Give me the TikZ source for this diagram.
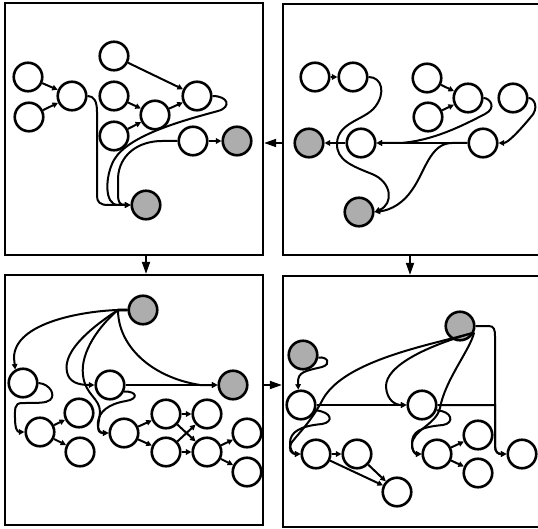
\documentclass[tikz,border=0pt]{standalone}
\usetikzlibrary{arrows.meta}
\begin{document}
\begin{tikzpicture}[x=1pt,y=-1pt,
  nd/.style={circle,draw,fill=white,line width=2.6pt,minimum size=28.5pt,inner sep=0pt},
  sh/.style={nd,fill=black!32},
  e/.style={line width=2pt,-{Triangle[length=5.5pt,width=5.5pt]}},
  pnl/.style={draw,line width=2.3pt,rectangle,inner sep=0pt},
  big/.style={line width=1.8pt,-{Triangle[length=12pt,width=8pt]}}]
\useasboundingbox (0,0) rectangle (538,529);
\clip (0,0) rectangle (538,529);
% panels
\node[pnl,minimum width=258pt,minimum height=252pt] (tl) at (134,129) {};
\node[pnl,minimum width=262pt,minimum height=251pt] (tr) at (414,129.5) {};
\node[pnl,minimum width=258pt,minimum height=250pt] (bl) at (134,400) {};
\node[pnl,minimum width=262pt,minimum height=251pt] (br) at (414,401.5) {};
\coordinate (vx) at (410,0);
% ---------- top left
\node[nd] (A1) at (28,77) {};
\node[nd] (A2) at (29,117) {};
\node[nd] (A3) at (72,96) {};
\node[nd] (B1) at (114,56) {};
\node[nd] (B2) at (114,96) {};
\node[nd] (B3) at (114,136) {};
\node[nd] (B4) at (155,115) {};
\node[nd] (B5) at (197,96) {};
\node[nd] (B6) at (193,141) {};
\node[sh] (S1) at (237,141) {};
\node[sh] (S2) at (146,205) {};
\draw[e] (A1) -- (A3);
\draw[e] (A2) -- (A3);
\draw[e] (B1) -- (B5);
\draw[e] (B2) -- (B4);
\draw[e] (B3) -- (B4);
\draw[e] (B4) -- (B5);
\draw[e] (B6) -- (S1);
\draw[e] (A3.east) .. controls (94,96) and (97,101) .. (97,112) -- (97,196) .. controls (97,202) and (100,205) .. (108,205) -- (S2.west);
\draw[e] (B5.east) .. controls (228,96) and (232,107) .. (218,111) .. controls (185,120) and (128,135) .. (114,160) .. controls (105,176) and (104,205) .. (118,205) -- (S2.west);
\draw[e] (B6.west) -- (162,141) .. controls (138,141) and (119,155) .. (118,178) -- (118,194) .. controls (118,203) and (120,205) .. (S2.west);
% ---------- top right
\node[nd] (C1) at (315,77) {};
\node[nd] (C2) at (353,77) {};
\node[nd] (C3) at (427,78) {};
\node[nd] (C4) at (428,117) {};
\node[nd] (C5) at (468,98) {};
\node[nd] (C6) at (513,98) {};
\node[sh] (S3) at (309,143) {};
\node[nd] (C7) at (361,143) {};
\node[nd] (C8) at (483,143) {};
\node[sh] (S4) at (359,212) {};
\draw[e] (C1) -- (C2);
\draw[e] (C3) -- (C5);
\draw[e] (C4) -- (C5);
\draw[e] (C8) -- (C7);
\draw[e] (C7) -- (S3);
\draw[e] (C6.east) .. controls (534,98) and (540,108) .. (530,118) .. controls (520,130) and (508,143) .. (C8.east);
\draw[e] (C5.east) .. controls (490,98) and (497,108) .. (485,114) .. controls (462,126) and (432,141) .. (400,143) -- (C7.east);
\draw[e] (C2.east) .. controls (382,77) and (386,93) .. (375,107) .. controls (365,120) and (338,122) .. (337,143) .. controls (336,160) and (352,166) .. (372,174) .. controls (392,182) and (394,204) .. (S4.east);
\draw[e] (C8.west) -- (452,143) .. controls (430,143) and (425,172) .. (412,190) .. controls (404,202) and (392,210) .. (S4.east);
% ---------- bottom left
\node[sh] (S5) at (143,310) {};
\node[sh] (S6) at (233,385) {};
\node[nd] (D1) at (23,383) {};
\node[nd] (D2) at (110,385) {};
\node[nd] (D3) at (40,432) {};
\node[nd] (D4) at (79,413) {};
\node[nd] (D5) at (80,452) {};
\node[nd] (D6) at (124,433) {};
\node[nd] (D7) at (166,414) {};
\node[nd] (D8) at (166,452) {};
\node[nd] (D9) at (207,414) {};
\node[nd] (D10) at (207,452) {};
\node[nd] (D11) at (247,433) {};
\node[nd] (D12) at (247,472) {};
\draw[e] (D3) -- (D4);
\draw[e] (D3) -- (D5);
\draw[e] (D6) -- (D7);
\draw[e] (D6) -- (D8);
\draw[e] (D7) -- (D9);
\draw[e] (D8) -- (D10);
\draw[e] (D7) -- (D10);
\draw[e] (D8) -- (D9);
\draw[e] (D10) -- (D11);
\draw[e] (D10) -- (D12);
\draw[e] (D2) -- (S6);
\draw[e] (S5.west) -- (118,310) .. controls (85,311) and (14,322) .. (14,358) -- (D1.120);
\draw[e] (S5.west) -- (118,310) .. controls (95,325) and (62,350) .. (67,372) .. controls (69,382) and (78,385) .. (D2.west);
\draw[e] (S5.west) -- (118,310) .. controls (100,325) and (80,352) .. (83,375) .. controls (85,395) and (100,398) .. (100,412) .. controls (99,424) and (95,433) .. (D6.west);
\draw[e] (D2.-25) .. controls (137,391) and (139,399) .. (126,401) .. controls (108,404) and (99,412) .. (98,422) .. controls (97,431) and (101,433) .. (D6.west);
\draw[e] (S5.west) -- (118,310) .. controls (118,345) and (150,377) .. (200,385) -- (S6.west);
\draw[e] (D1.east) .. controls (50,384) and (56,395) .. (50,400) .. controls (46,403) and (40,403) .. (22,403) .. controls (14,403) and (15,410) .. (15,418) .. controls (15,428) and (17,432) .. (D3.west);
% ---------- bottom right
\node[sh] (S7) at (303,355) {};
\node[sh] (S8) at (460,326) {};
\node[nd] (E1) at (301,405) {};
\node[nd] (E2) at (422,405) {};
\node[nd] (E3) at (316,454) {};
\node[nd] (E4) at (357,454) {};
\node[nd] (E5) at (397,492) {};
\node[nd] (E6) at (478,435) {};
\node[nd] (E7) at (437,454) {};
\node[nd] (E8) at (478,473) {};
\node[nd] (E9) at (522,454) {};
\draw[e] (E1) -- (E2);
\draw[e] (E3) -- (E4);
\draw[e] (E3) -- (E5);
\draw[e] (E4) -- (E5);
\draw[e] (E7) -- (E6);
\draw[e] (E7) -- (E8);
\draw[e] (S7.-10) .. controls (327,356) and (332,364) .. (322,367) .. controls (305,371) and (298,372) .. (298,382) -- (E1.100);
\draw[e] (S8.-25) .. controls (430,345) and (345,360) .. (323,399) .. controls (312,420) and (300,432) .. (292,442) .. controls (287,450) and (292,454) .. (E3.west);
\draw[e] (E1.-20) .. controls (332,412) and (334,422) .. (322,424) .. controls (300,426) and (290,432) .. (290,443) .. controls (290,450) and (293,454) .. (E3.west);
\draw[e] (S8.-25) .. controls (430,345) and (385,365) .. (386,387) .. controls (387,400) and (395,405) .. (E2.west);
\draw[e] (S8.-25) .. controls (470,350) and (445,380) .. (440,408) .. controls (436,425) and (412,430) .. (412,445) .. controls (412,452) and (416,454) .. (E7.west);
\draw[e] (E2.-20) .. controls (452,411) and (455,423) .. (443,425) .. controls (420,427) and (412,432) .. (412,443) .. controls (412,451) and (415,454) .. (E7.west);
\draw[e] (S8.east) -- (489,326) .. controls (494,326) and (495,330) .. (495,336) -- (495,446) .. controls (495,452) and (498,454) .. (E9.west);
\draw[e] (E2.east) -- (495,405) -- (495,446) .. controls (495,452) and (498,454) .. (E9.west);
% ---------- panel arrows
\draw[big] (tr.west |- S3) -- (tl.east |- S3);
\draw[big] (tl.south -| S2) -- (bl.north -| S2);
\draw[big] (tr.south -| vx) -- (br.north -| vx);
\draw[big] (bl.east |- S6) -- (br.west |- S6);
\end{tikzpicture}
\end{document}
